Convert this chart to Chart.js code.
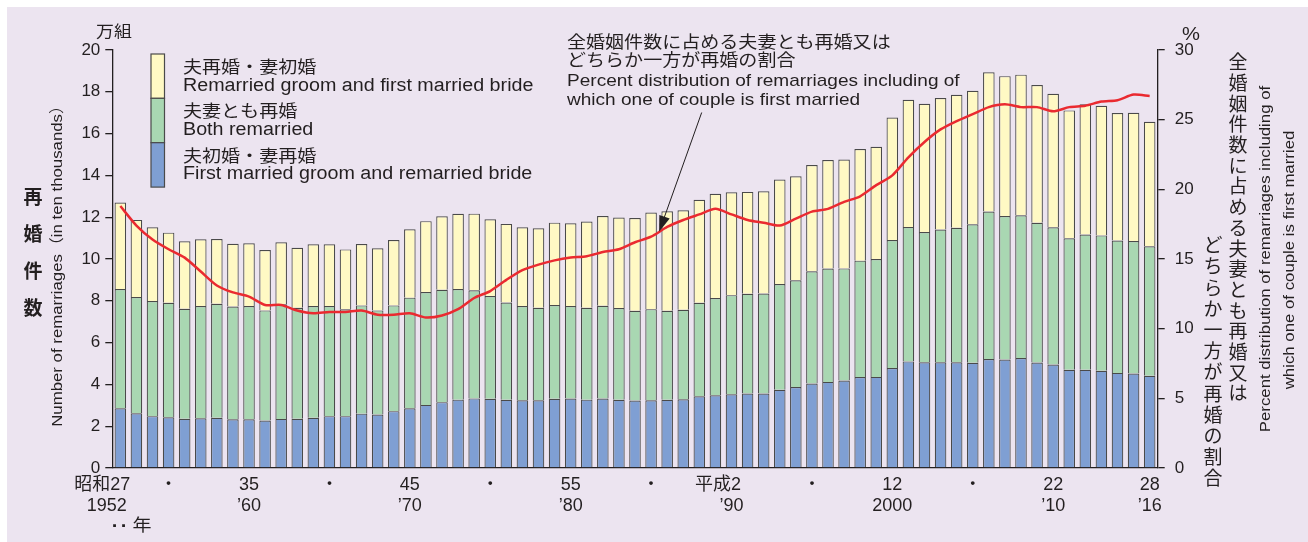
<!DOCTYPE html>
<html>
<head>
<meta charset="utf-8">
<script src="https://cdn.jsdelivr.net/npm/chart.js@4.4.1/dist/chart.umd.min.js"></script>
<style>
  html, body { margin: 0; padding: 0; background: #fff; }
  canvas { display: block; }
</style>
</head>
<body>
<canvas id="myChart" width="1308" height="542"></canvas>
<script>
// 再婚件数の推移（万組）と全婚姻件数に占める再婚の割合（％）
let years = [];
for (let y = 1952; y <= 2016; y++) years.push(y);

// 夫初婚・妻再婚
let firstGroomRemarriedBride = [
  2.86, 2.62, 2.48, 2.43, 2.36, 2.38, 2.40, 2.33, 2.33, 2.27,
  2.35, 2.36, 2.40, 2.48, 2.48, 2.60, 2.56, 2.72, 2.86, 3.02,
  3.15, 3.27, 3.33, 3.31, 3.26, 3.24, 3.24, 3.31, 3.32, 3.27,
  3.32, 3.26, 3.23, 3.24, 3.26, 3.29, 3.43, 3.48, 3.53, 3.56,
  3.56, 3.74, 3.87, 4.04, 4.12, 4.19, 4.35, 4.36, 4.78, 5.10,
  5.06, 5.06, 5.06, 5.03, 5.21, 5.19, 5.26, 5.05, 4.95, 4.70,
  4.70, 4.65, 4.55, 4.52, 4.41
];

// 夫妻とも再婚
let bothRemarried = [
  5.70, 5.56, 5.51, 5.48, 5.26, 5.37, 5.46, 5.40, 5.42, 5.27,
  5.48, 5.31, 5.35, 5.27, 5.11, 5.18, 4.98, 5.06, 5.29, 5.40,
  5.38, 5.29, 5.17, 4.92, 4.66, 4.51, 4.43, 4.49, 4.43, 4.40,
  4.44, 4.39, 4.29, 4.36, 4.26, 4.28, 4.48, 4.65, 4.74, 4.78,
  4.79, 5.06, 5.11, 5.37, 5.42, 5.36, 5.57, 5.64, 6.13, 6.43,
  6.23, 6.35, 6.43, 6.63, 7.06, 6.87, 6.83, 6.68, 6.57, 6.29,
  6.47, 6.48, 6.33, 6.34, 6.20
];

// 夫再婚・妻初婚
let remarriedGroomFirstBride = [
  4.14, 3.69, 3.53, 3.35, 3.23, 3.19, 3.10, 3.00, 3.00, 2.89,
  2.97, 2.87, 2.95, 2.95, 2.87, 2.94, 2.97, 3.13, 3.27, 3.39,
  3.51, 3.60, 3.67, 3.67, 3.76, 3.77, 3.80, 3.94, 3.96, 4.12,
  4.30, 4.33, 4.44, 4.62, 4.76, 4.76, 4.92, 4.99, 4.92, 4.87,
  4.89, 5.00, 4.98, 5.09, 5.20, 5.21, 5.34, 5.37, 5.86, 6.09,
  6.14, 6.29, 6.37, 6.39, 6.66, 6.69, 6.73, 6.59, 6.39, 6.12,
  6.23, 6.20, 6.10, 6.14, 5.96
];

// 全婚姻件数に占める割合（％）
let remarriageRate = [
  18.8, 17.4, 16.4, 15.7, 15.1, 14.1, 13.1, 12.6, 12.3, 11.7,
  11.7, 11.3, 11.1, 11.2, 11.2, 11.3, 11.0, 11.0, 11.1, 10.8,
  10.95, 11.4, 12.2, 12.7, 13.5, 14.2, 14.6, 14.9, 15.1, 15.2,
  15.5, 15.7, 16.2, 16.6, 17.3, 17.8, 18.2, 18.6, 18.2, 17.8,
  17.6, 17.4, 17.9, 18.4, 18.6, 19.1, 19.5, 20.3, 21.0, 22.3,
  23.4, 24.3, 24.9, 25.4, 25.9, 26.1, 25.9, 25.9, 25.6, 25.9,
  26.0, 26.3, 26.4, 26.8, 26.7
];

// 年次目盛り（和暦・西暦）
let tickYears   = [1952, 1955, 1960, 1965, 1970, 1975, 1980, 1985, 1990, 1995, 2000, 2005, 2010, 2016];
let tickEra     = ["昭和27\u3000\u3000", "・", "35", "・", "45", "・", "55", "・", "平成2\u3000\u2002", "・", "12", "・", "22", "28"];
let tickWestern = ["1952\u2002\u2002\u2002", "", "’60", "", "’70", "", "’80", "", "’90", "", "2000", "", "’10", "’16"];

let legendJa = ["夫再婚・妻初婚", "夫妻とも再婚", "夫初婚・妻再婚"];
let legendEn = ["Remarried groom and first married bride", "Both remarried", "First married groom and remarried bride"];

const BG = "rgb(236,228,240)";
const INK = "#231f20";
const LATIN = '"Liberation Sans", Arial, "Noto Sans CJK JP", sans-serif';
const CJK = '"Noto Sans CJK JP", "Liberation Sans", sans-serif';
const SX = 1.12;

function drawText(ctx, s, x, y, font, align, base) {
  ctx.save();
  ctx.translate(x, y);
  ctx.scale(SX, 1);
  ctx.font = font;
  ctx.textAlign = align || "left";
  ctx.textBaseline = base || "alphabetic";
  ctx.fillStyle = INK;
  ctx.fillText(s, 0, 0);
  ctx.restore();
}

function drawUpright(ctx, s, x, y0, step, font) {
  ctx.save();
  ctx.font = font;
  ctx.textAlign = "center";
  ctx.textBaseline = "middle";
  ctx.fillStyle = INK;
  [...s].forEach((c, i) => ctx.fillText(c, x, y0 + i * step));
  ctx.restore();
}

function drawRotated(ctx, s, x, y, font) {
  ctx.save();
  ctx.translate(x, y);
  ctx.rotate(-Math.PI / 2);
  ctx.scale(SX, 1);
  ctx.font = font;
  ctx.textAlign = "center";
  ctx.textBaseline = "alphabetic";
  ctx.fillStyle = INK;
  ctx.fillText(s, 0, 0);
  ctx.restore();
}

const decorations = {
  id: "decorations",
  beforeDraw(chart) {
    const ctx = chart.ctx;
    ctx.save();
    ctx.fillStyle = "#fff";
    ctx.fillRect(0, 0, chart.width, chart.height);
    ctx.fillStyle = BG;
    ctx.fillRect(7, 7, chart.width - 7, chart.height - 7);
    ctx.restore();
  },
  afterDraw(chart) {
    const ctx = chart.ctx;

    // 単位
    drawText(ctx, "万組", 114, 37, "16px " + CJK, "center");
    drawText(ctx, "%", 1191, 40, "18px " + LATIN, "center");

    // 左軸タイトル
    drawUpright(ctx, "再婚件数", 33, 197, 37, "bold 19px " + CJK);
    drawRotated(ctx, "Number of remarriages（in ten thousands）", 62, 262, "15px " + LATIN);

    // 右軸タイトル
    drawUpright(ctx, "全婚姻件数に占める夫妻とも再婚又は", 1238, 62, 20.7, "19px " + CJK);
    drawUpright(ctx, "どちらか一方が再婚の割合", 1213, 245, 21.2, "19px " + CJK);
    drawRotated(ctx, "Percent distribution of remarriages including of", 1270, 259, "15px " + LATIN);
    drawRotated(ctx, "which one of couple is first married", 1294, 260, "15px " + LATIN);

    // 凡例
    const ds = chart.data.datasets;
    const order = [2, 1, 0];
    const boxTop = [54, 98.3, 142.7];
    order.forEach((di, k) => {
      ctx.save();
      ctx.fillStyle = ds[di].backgroundColor;
      ctx.strokeStyle = "#4a4a4a";
      ctx.lineWidth = 1.2;
      ctx.fillRect(151, boxTop[k], 13.5, 44.4);
      ctx.strokeRect(151, boxTop[k], 13.5, 44.4);
      ctx.restore();
      drawText(ctx, legendJa[k], 183, boxTop[k] + 12.5, "17px " + CJK, "left", "middle");
      drawText(ctx, legendEn[k], 183, boxTop[k] + 36.5, "17.6px " + LATIN);
    });

    // 割合の注記と矢印
    drawText(ctx, "全婚姻件数に占める夫妻とも再婚又は", 567, 42, "17px " + CJK, "left", "middle");
    drawText(ctx, "どちらか一方が再婚の割合", 567, 60, "17px " + CJK, "left", "middle");
    drawText(ctx, "Percent distribution of remarriages including of", 567, 85.7, "17px " + LATIN);
    drawText(ctx, "which one of couple is first married", 567, 105, "17px " + LATIN);

    const xs = chart.scales.x, ys = chart.scales.y1;
    const i = years.indexOf(1985);
    const tipX = (xs.getPixelForValue(i) + xs.getPixelForValue(i + 1)) / 2;
    const tipY = ys.getPixelForValue((remarriageRate[i] + remarriageRate[i + 1]) / 2);
    const sx0 = 701.7, sy0 = 112.5;
    const ang = Math.atan2(tipY - sy0, tipX - sx0);
    ctx.save();
    ctx.strokeStyle = INK;
    ctx.fillStyle = INK;
    ctx.lineWidth = 1;
    ctx.beginPath();
    ctx.moveTo(sx0, sy0);
    ctx.lineTo(tipX - 12 * Math.cos(ang), tipY - 12 * Math.sin(ang));
    ctx.stroke();
    ctx.translate(tipX, tipY);
    ctx.rotate(ang);
    ctx.beginPath();
    ctx.moveTo(0, 0);
    ctx.lineTo(-16, -5.5);
    ctx.lineTo(-16, 5.5);
    ctx.closePath();
    ctx.fill();
    ctx.restore();

    // 年の注記
    drawText(ctx, "·", 115, 527, "bold 18px " + LATIN, "center", "middle");
    drawText(ctx, "·", 124, 527, "bold 18px " + LATIN, "center", "middle");
    drawText(ctx, "年", 142, 525, "17px " + CJK, "center", "middle");
  }
};

const barStyle = {
  borderColor: "#4a4a4a",
  borderWidth: 1.2,
  barPercentage: 0.72,
  categoryPercentage: 1.0,
  yAxisID: "y",
  order: 1
};

let ctx = document.getElementById("myChart").getContext("2d");

let chart = new Chart(ctx, {
  type: "bar",
  data: {
    labels: years,
    datasets: [
      Object.assign({ label: legendJa[2], data: firstGroomRemarriedBride, backgroundColor: "#7f9fd3" }, barStyle),
      Object.assign({ label: legendJa[1], data: bothRemarried, backgroundColor: "#a9d7b2" }, barStyle),
      Object.assign({ label: legendJa[0], data: remarriedGroomFirstBride, backgroundColor: "#fff9c4" }, barStyle),
      {
        type: "line",
        label: "割合",
        data: remarriageRate,
        yAxisID: "y1",
        borderColor: "#ea2a30",
        borderWidth: 2.5,
        pointRadius: 0,
        tension: 0.25,
        fill: false,
        order: 0
      }
    ]
  },
  options: {
    responsive: false,
    animation: false,
    devicePixelRatio: 1,
    layout: { padding: { top: 50, left: 0, right: 0, bottom: 0 } },
    plugins: {
      legend: { display: false },
      tooltip: { enabled: false }
    },
    scales: {
      x: {
        stacked: true,
        offset: true,
        grid: { display: false, drawTicks: false },
        border: { display: true, color: INK, width: 1.3 },
        ticks: {
          autoSkip: false,
          maxRotation: 0,
          padding: 6,
          color: INK,
          font: { family: LATIN, size: 18, lineHeight: 1.2 },
          callback: function (value, index) {
            const k = tickYears.indexOf(years[index]);
            if (k < 0) return "";
            return tickWestern[k] ? [tickEra[k], tickWestern[k]] : tickEra[k];
          }
        },
        afterFit: s => { s.height = 74; }
      },
      y: {
        stacked: true,
        position: "left",
        min: 0,
        max: 20,
        ticks: { stepSize: 2, padding: 5, color: INK, font: { family: LATIN, size: 17 } },
        grid: { drawOnChartArea: false, drawTicks: true, tickLength: 7, color: INK, lineWidth: 1.3 },
        border: { display: true, color: INK, width: 1.3 },
        afterFit: s => { s.width = 112.3; }
      },
      y1: {
        position: "right",
        min: 0,
        max: 30,
        ticks: { stepSize: 5, padding: 10, color: INK, font: { family: LATIN, size: 17 } },
        grid: { drawOnChartArea: false, drawTicks: true, tickLength: 7, color: INK, lineWidth: 1.3 },
        border: { display: true, color: INK, width: 1.3 },
        afterFit: s => { s.width = 150.3; }
      }
    }
  },
  plugins: [decorations]
});
</script>
</body>
</html>
